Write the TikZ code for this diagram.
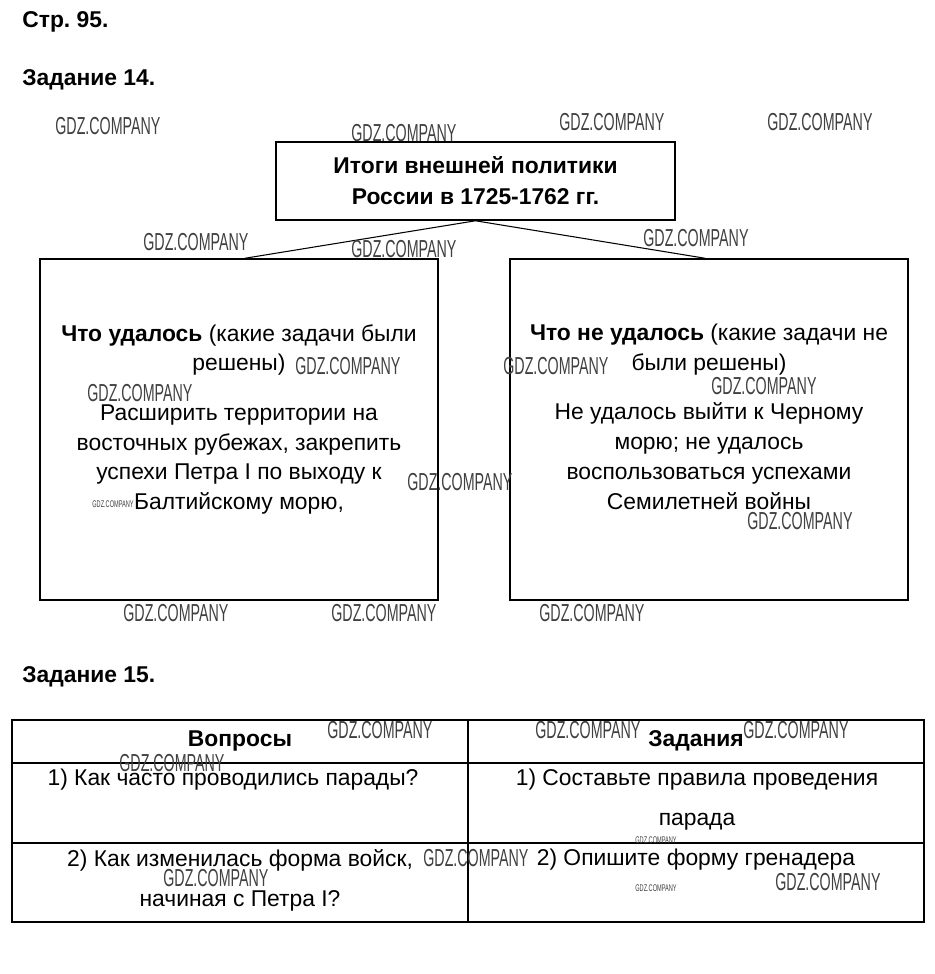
\documentclass[tikz,border=0pt]{standalone}
\usepackage{fontspec}
\setmainfont{Liberation Sans}
\newfontfamily\wmfont[FakeStretch=0.58]{Liberation Sans}
\usepackage{tikz}
\usetikzlibrary{positioning}
\frenchspacing
\tikzset{
  heading/.style={anchor=west, inner sep=0pt, font=\fontsize{13}{17}\selectfont\bfseries},
  itogbox/.style={draw, line width=0.9pt, minimum width=7.98cm, minimum height=1.56cm, align=center, inner sep=0pt, font=\fontsize{13}{17.6}\selectfont\bfseries},
  resbox/.style={draw, line width=0.9pt, minimum width=7.96cm, minimum height=6.82cm, inner sep=0pt},
  boxtext/.style={anchor=north, align=center, inner sep=0pt, font=\fontsize{13}{17}\selectfont},
  celltext/.style={anchor=north, align=center, inner sep=0pt, font=\fontsize{13}{22.7}\selectfont},
  link/.style={draw, line width=0.6pt},
  grid/.style={draw, line width=0.7pt},
  wm/.style={anchor=west, inner sep=0pt, text=black!75, font=\wmfont\fontsize{14}{14}\selectfont},
  wmsmall/.style={anchor=west, inner sep=0pt, text=black!75, font=\wmfont\fontsize{5.5}{5.5}\selectfont}
}
\begin{document}
\begin{tikzpicture}[x=0.02cm, y=-0.02cm]
  \fill[white] (0,0) rectangle (935,974);
  \useasboundingbox (0,0) rectangle (935,974);

  \node[heading] (page) at (22,22) {Стр. 95.};
  \node[heading] (task14) at (22,80) {Задание 14.};
  \node[heading] (task15) at (22,677) {Задание 15.};

  \node[itogbox] (itogi) at (475.5,181) {Итоги внешней политики\\России в 1725-1762 гг.};
  \node[resbox] (udalos) at (239,429.5) {};
  \node[resbox] (neudalos) at (709,429.5) {};
  \draw[link] (itogi.south) -- ([xshift=0.12cm]udalos.north);
  \draw[link] (itogi.south) -- ([xshift=-0.08cm]neudalos.north);

  \node[boxtext] (udalostext) at (239,324) {\textbf{Что удалось} (какие задачи были\\решены)\\[11pt]
    Расширить территории на\\восточных рубежах, закрепить\\успехи Петра I по выходу к\\Балтийскому морю,};
  \node[boxtext] (neudalostext) at (709,324) {\textbf{Что не удалось} (какие задачи не\\были решены)\\[11pt]
    Не удалось выйти к Черному\\морю; не удалось\\воспользоваться успехами\\Семилетней войны};

  \coordinate (tl) at (12,720);
  \coordinate (br) at (924,922);
  \draw[grid] (tl) rectangle (br);
  \draw[grid] (468,720) -- (468,922);
  \draw[grid] (12,763) -- (924,763);
  \draw[grid] (12,843) -- (924,843);

  \node[celltext, font=\fontsize{13}{22.7}\selectfont\bfseries] (voprosy) at (240,730) {Вопросы};
  \node[celltext, font=\fontsize{13}{22.7}\selectfont\bfseries] (zadaniya) at (696,730) {Задания};
  \node[celltext] (q1) at (233,769) {1) Как часто проводились парады?};
  \node[celltext] (z1) at (697,769) {1) Составьте правила проведения\\парада};
  \node[celltext] (q2) at (240,849) {2) Как изменилась форма войск,\\начиная с Петра I?};
  \node[celltext] (z2) at (696,849) {2) Опишите форму гренадера};

  \foreach \x/\y [count=\i] in {55/126,351/133,559/122,767/122,143/242,351/249,643/238,295/366,87/393,503/366,711/386,407/482,747/521,123/613,331/613,539/613,327/730,535/730,743/730,119/763,423/858,163/878,775/882}
    {\node[wm] (wm\i) at (\x,\y) {GDZ.COMPANY};}
  \foreach \x/\y [count=\i] in {92/504,635/840,635/888}
    {\node[wmsmall] (wms\i) at (\x,\y) {GDZ.COMPANY};}
\end{tikzpicture}
\end{document}
